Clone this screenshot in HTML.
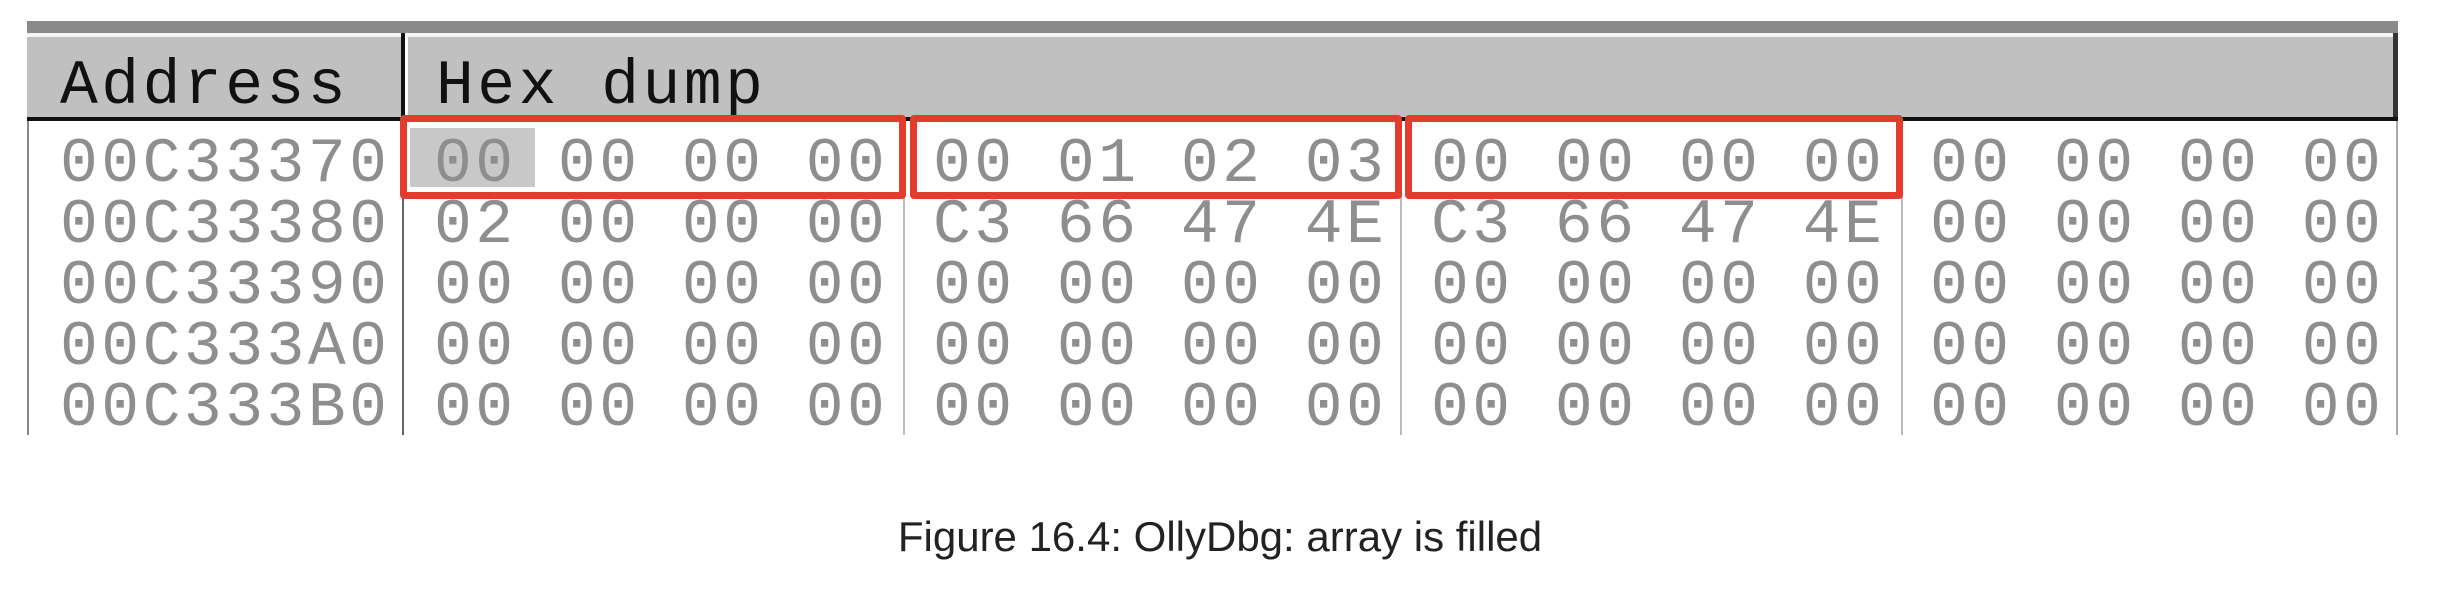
<!DOCTYPE html>
<html><head><meta charset="utf-8"><style>
html,body{margin:0;padding:0;background:#fff;width:2440px;height:596px;overflow:hidden;position:relative}
.a{position:absolute}
.m{position:absolute;font-family:"Liberation Mono",monospace;font-size:63px;letter-spacing:3.5px;line-height:1;white-space:pre;color:#8e8e8e}
.h{color:#111}
.r{position:absolute;border:7px solid #e33b2c;border-radius:4px;box-sizing:border-box}
</style></head><body>
<div class="a" style="left:27px;top:21px;width:2371px;height:12px;background:#8a8a8a"></div>
<div class="a" style="left:27px;top:33px;width:2371px;height:4px;background:#f4f4f4"></div>
<div class="a" style="left:27px;top:37px;width:2368px;height:80px;background:#c0c0c0"></div>
<div class="a" style="left:2393px;top:33px;width:5px;height:88px;background:#333"></div>
<div class="a" style="left:27px;top:117px;width:2371px;height:4px;background:#111"></div>
<div class="a" style="left:401px;top:33px;width:4px;height:88px;background:#111"></div>
<div class="a" style="left:405px;top:37px;width:3px;height:80px;background:#fff"></div>
<div class="a" style="left:27px;top:121px;width:2px;height:314px;background:#888"></div>
<div class="a" style="left:402px;top:121px;width:2px;height:314px;background:#666"></div>
<div class="a" style="left:903px;top:121px;width:2px;height:314px;background:#bbb"></div>
<div class="a" style="left:1400px;top:121px;width:2px;height:314px;background:#bbb"></div>
<div class="a" style="left:1901px;top:121px;width:2px;height:314px;background:#bbb"></div>
<div class="a" style="left:2396px;top:121px;width:2px;height:314px;background:#aaa"></div>
<div class="a" style="left:410px;top:128px;width:125px;height:59px;background:#c8c8c8"></div>

<div class="m h" style="left:60px;top:55px">Address</div>
<div class="m h" style="left:436px;top:55px">Hex dump</div>

<div class="m" style="left:60px;top:133px">00C33370</div>
<div class="m" style="left:60px;top:194px">00C33380</div>
<div class="m" style="left:60px;top:255px">00C33390</div>
<div class="m" style="left:60px;top:316px">00C333A0</div>
<div class="m" style="left:60px;top:377px">00C333B0</div>

<div class="m" style="left:434px;top:133px">00 00 00 00</div>
<div class="m" style="left:933px;top:133px">00 01 02 03</div>
<div class="m" style="left:1431px;top:133px">00 00 00 00</div>
<div class="m" style="left:1930px;top:133px">00 00 00 00</div>

<div class="m" style="left:434px;top:194px">02 00 00 00</div>
<div class="m" style="left:933px;top:194px">C3 66 47 4E</div>
<div class="m" style="left:1431px;top:194px">C3 66 47 4E</div>
<div class="m" style="left:1930px;top:194px">00 00 00 00</div>

<div class="m" style="left:434px;top:255px">00 00 00 00</div>
<div class="m" style="left:933px;top:255px">00 00 00 00</div>
<div class="m" style="left:1431px;top:255px">00 00 00 00</div>
<div class="m" style="left:1930px;top:255px">00 00 00 00</div>

<div class="m" style="left:434px;top:316px">00 00 00 00</div>
<div class="m" style="left:933px;top:316px">00 00 00 00</div>
<div class="m" style="left:1431px;top:316px">00 00 00 00</div>
<div class="m" style="left:1930px;top:316px">00 00 00 00</div>

<div class="m" style="left:434px;top:377px">00 00 00 00</div>
<div class="m" style="left:933px;top:377px">00 00 00 00</div>
<div class="m" style="left:1431px;top:377px">00 00 00 00</div>
<div class="m" style="left:1930px;top:377px">00 00 00 00</div>

<div class="r" style="left:400px;top:115px;width:506px;height:84px"></div>
<div class="r" style="left:910px;top:115px;width:492px;height:84px"></div>
<div class="r" style="left:1405px;top:115px;width:498px;height:84px"></div>

<div class="a" style="left:0;top:512px;width:2440px;text-align:center;font-family:'Liberation Sans',sans-serif;font-size:42px;color:#222;line-height:50px">Figure 16.4: OllyDbg: array is filled</div>
</body></html>
